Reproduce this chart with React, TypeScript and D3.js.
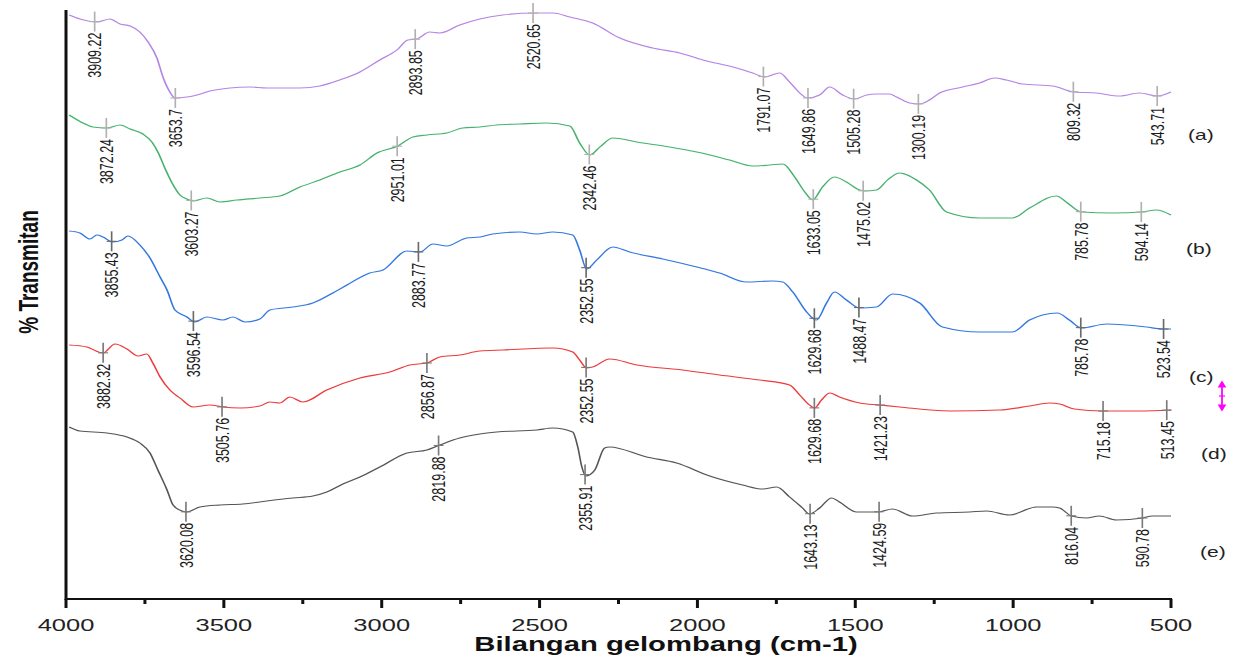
import React from 'react';
import * as d3 from 'd3';

// FTIR spectra, stacked (a)-(e). values: [wavenumber cm-1, %T with offset]
const traceA: [number, number][] = [
  [3990, 116.8], [3956, 116], [3902, 115.4], [3861, 116], [3829, 115], [3797, 114.6], [3766, 113.4],
  [3740, 111.4], [3712, 108.2], [3693, 104.4], [3671, 101.4], [3655, 100.2], [3617, 100.4], [3585, 100.8],
  [3544, 101.6], [3481, 102.2], [3418, 102.4], [3364, 102.2], [3259, 102.2], [3196, 102.6], [3133, 103.8],
  [3069, 105.4], [3006, 107.8], [2952, 109.8], [2917, 111.8], [2889, 112], [2848, 113.4], [2816, 113.2],
  [2753, 114.8], [2689, 116], [2617, 116.8], [2515, 117.2], [2458, 117.2], [2404, 116.4], [2332, 115.2],
  [2246, 112.2], [2142, 110.2], [2056, 109.2], [1983, 107.8], [1876, 106.2], [1825, 105.2], [1787, 104.4],
  [1740, 105.2], [1708, 103.4], [1676, 101.2], [1651, 100.2], [1613, 100.8], [1581, 102.4], [1540, 100.8],
  [1502, 100], [1464, 100.8], [1433, 101], [1391, 101], [1369, 100.4], [1328, 99.2], [1296, 99],
  [1265, 99.8], [1233, 101.2], [1160, 102.4], [1106, 103.2], [1059, 104.2], [1021, 103.8], [970, 103],
  [875, 102.6], [806, 101.4], [736, 101.2], [663, 100.6], [600, 101.2], [543, 100.6], [500, 101.4],
];

const traceB: [number, number][] = [
  [3990, 96.8], [3946, 95.2], [3915, 94.4], [3870, 94.2], [3829, 94.8], [3797, 94], [3756, 93],
  [3728, 91.4], [3709, 89.4], [3687, 86.2], [3664, 83.2], [3639, 80.8], [3617, 80], [3598, 79.6],
  [3554, 80.2], [3512, 79.4], [3459, 79.8], [3386, 80.2], [3323, 80.6], [3259, 82.4], [3196, 83.8],
  [3133, 85.4], [3069, 86.8], [3015, 89.2], [2949, 90.6], [2901, 92.4], [2857, 92.8], [2794, 93.2],
  [2743, 94.2], [2689, 94.4], [2636, 94.8], [2563, 95], [2477, 95.2], [2404, 94.6], [2373, 91.2],
  [2341, 88.8], [2309, 90.4], [2268, 92.2], [2192, 91.4], [2088, 90.4], [2002, 89.4], [1898, 87.8],
  [1825, 86.6], [1771, 86.8], [1730, 87], [1692, 84.4], [1660, 81.4], [1635, 79.8], [1604, 82.4],
  [1566, 84.4], [1528, 83.4], [1486, 81.8], [1471, 81.6], [1433, 81.8], [1398, 83.8], [1360, 85.2],
  [1306, 83.8], [1265, 81.8], [1211, 77.4], [1106, 76.2], [1002, 76.2], [948, 78.2], [863, 80.6],
  [828, 79.2], [784, 77.4], [685, 77.2], [594, 77.4], [546, 77.8], [500, 76.8],
];

const traceC: [number, number][] = [
  [3990, 73.6], [3956, 73.2], [3924, 72], [3902, 72.8], [3883, 72.4], [3851, 71.4], [3823, 71.8],
  [3804, 72.6], [3766, 70.8], [3734, 68.2], [3702, 64.4], [3680, 61.8], [3655, 57.8], [3617, 56.4],
  [3592, 55.4], [3554, 56.4], [3503, 55.8], [3471, 56.4], [3433, 55.4], [3386, 56], [3354, 57.8],
  [3281, 58.4], [3218, 59.2], [3155, 61.2], [3110, 62.8], [3038, 65.2], [2996, 65.8], [2920, 69.6],
  [2879, 69.4], [2838, 71], [2794, 70.6], [2731, 72.2], [2689, 72.4], [2648, 73], [2563, 73.4],
  [2509, 73], [2458, 73.4], [2395, 72.8], [2373, 69.8], [2351, 66], [2319, 67.8], [2268, 70.4],
  [2215, 69.4], [2110, 68], [2002, 66.4], [1930, 65.2], [1844, 63.4], [1762, 63.6], [1730, 63.4],
  [1698, 61.4], [1654, 57.4], [1623, 55.8], [1591, 59.2], [1566, 61.4], [1528, 59.8], [1486, 58.2],
  [1433, 58.4], [1382, 61], [1296, 59.2], [1224, 54.4], [1106, 53.4], [1002, 53.4], [948, 55.8],
  [860, 57.2], [822, 55.8], [784, 54.2], [704, 55], [578, 54.4], [527, 54], [500, 54],
];

const traceD: [number, number][] = [
  [3990, 50.8], [3934, 50.4], [3883, 49.2], [3845, 51], [3807, 50], [3772, 48.6], [3744, 49],
  [3725, 47.2], [3702, 44.4], [3671, 41.8], [3639, 40.2], [3598, 38.4], [3544, 38.8], [3503, 38.4],
  [3449, 38.2], [3386, 38.6], [3354, 39.4], [3323, 39.2], [3291, 40.4], [3250, 39.4], [3174, 41.8],
  [3069, 44.2], [2974, 45.4], [2911, 46.8], [2857, 47.2], [2816, 48.4], [2753, 48.8], [2689, 49.6],
  [2617, 49.8], [2458, 50.2], [2395, 49.4], [2373, 47.8], [2351, 46.2], [2332, 46.4], [2278, 48],
  [2192, 46.8], [2047, 45.8], [1930, 44.8], [1803, 43.8], [1708, 42.8], [1676, 40.8], [1645, 38.8],
  [1629, 38.2], [1607, 39.8], [1581, 41.2], [1550, 40.4], [1486, 39.2], [1423, 38.8], [1360, 38.4],
  [1201, 37.6], [1043, 37.8], [948, 38.6], [885, 39.2], [853, 39], [806, 38], [717, 37.6],
  [600, 37.6], [500, 37.8],
];

const traceE: [number, number][] = [
  [3990, 34.4], [3956, 33.6], [3870, 33.2], [3807, 32.4], [3766, 31.2], [3734, 29.2], [3709, 25.8],
  [3680, 21.8], [3661, 18.8], [3633, 17.6], [3617, 17.4], [3576, 18.4], [3512, 18.8], [3440, 19],
  [3364, 19.6], [3281, 20.2], [3218, 20.6], [3174, 21.4], [3123, 23], [3069, 24.4], [3006, 26.4],
  [2920, 29.2], [2857, 29.8], [2816, 30.8], [2753, 32.2], [2689, 33], [2636, 33.4], [2509, 33.8],
  [2458, 34.2], [2395, 33.4], [2379, 30.4], [2366, 26.4], [2354, 24.6], [2325, 25.8], [2294, 30.2],
  [2278, 30.4], [2161, 28.4], [2066, 27.2], [1961, 24.6], [1857, 22.8], [1793, 22], [1749, 22.4],
  [1708, 20.4], [1667, 18.2], [1645, 17], [1613, 18.2], [1575, 20.2], [1550, 19.4], [1496, 17.4],
  [1429, 17.4], [1382, 18], [1319, 16.6], [1243, 17.2], [1138, 17.4], [1084, 17.6], [1012, 16.8],
  [926, 18.4], [875, 18.4], [853, 18.2], [815, 16.6], [768, 16.2], [727, 16.6], [673, 15.8],
  [590, 16.2], [559, 16.6], [500, 16.6],
];

const peaksA = ['3909.22', '3653.7', '2893.85', '2520.65', '1791.07', '1649.86', '1505.28', '1300.19', '809.32', '543.71'];
const peaksB = ['3872.24', '3603.27', '2951.01', '2342.46', '1633.05', '1475.02', '785.78', '594.14'];
const peaksC = ['3855.43', '3596.54', '2883.77', '2352.55', '1629.68', '1488.47', '785.78', '523.54'];
const peaksD = ['3882.32', '3505.76', '2856.87', '2352.55', '1629.68', '1421.23', '715.18', '513.45'];
const peaksE = ['3620.08', '2819.88', '2355.91', '1643.13', '1424.59', '816.04', '590.78'];

const seriesNames = ['(a)', '(b)', '(c)', '(d)', '(e)'];
const seriesColors = ['#b585e6', '#45b36e', '#3378e0', '#ee3b3b', '#555555'];
const markerColors = ['#b0b0b0', '#b0b0b0', '#6a6a6a', '#7a7a7a', '#7a7a7a'];

const xMajor = [4000, 3500, 3000, 2500, 2000, 1500, 1000, 500];
const xMinor = [3750, 3250, 2750, 2250, 1750, 1250, 750];

const W = 1239;
const H = 657;
const SX = 1.5; // the original picture is stretched horizontally
const VW = W / SX;

const x = d3.scaleLinear().domain([4000, 500]).range([66 / SX, 1171 / SX]);
const y = d3.scaleLinear().domain([0, 118]).range([599, 9]);

function valueAt(data: [number, number][], w: number) {
  for (let i = 0; i < data.length - 1; i++) {
    const [w0, v0] = data[i];
    const [w1, v1] = data[i + 1];
    if (w <= w0 && w >= w1) return v0 + ((w - w0) / (w1 - w0)) * (v1 - v0);
  }
  return data[data.length - 1][1];
}

const line = d3
  .line<[number, number]>()
  .x(d => x(d[0]))
  .y(d => y(d[1]))
  .curve(d3.curveMonotoneX);

const traces = [traceA, traceB, traceC, traceD, traceE];
const peaks = [peaksA, peaksB, peaksC, peaksD, peaksE];
const namePos: [number, number][] = [[1188, 140], [1186, 254], [1189, 382], [1201, 459], [1200, 557]];

export default function App() {
  const font = 'Arial, "Liberation Sans", sans-serif';
  return (
    <svg
      width={W}
      height={H}
      viewBox={`0 0 ${VW} ${H}`}
      preserveAspectRatio="none"
      style={{ position: 'absolute', left: 0, top: 0, background: '#fff' }}
    >
      <rect x={0} y={0} width={VW} height={H} fill="#fff" />

      {traces.map((t, i) => (
        <path key={i} d={line(t) || ''} fill="none" stroke={seriesColors[i]} strokeWidth={1.1} />
      ))}

      {peaks.map((list, i) =>
        list.map((p, j) => {
          const px = x(+p);
          const py = y(valueAt(traces[i], +p));
          return (
            <g key={`${i}-${j}`}>
              <line x1={px} x2={px} y1={py - 10} y2={py + 10} stroke={markerColors[i]} strokeWidth={1.1} />
              <line x1={px - 3.3} x2={px + 3.3} y1={py} y2={py} stroke={markerColors[i]} strokeWidth={1.1} />
              <text
                transform={`translate(${px},${py + 11}) rotate(-90)`}
                textAnchor="end"
                dy="0.36em"
                fontFamily={font}
                fontSize={12.5}
                fill="#1a1a1a"
              >
                {p}
              </text>
            </g>
          );
        })
      )}

      {seriesNames.map((n, i) => (
        <text key={n} x={namePos[i][0] / SX} y={namePos[i][1]} fontFamily={font} fontSize={14} fill="#222">
          {n}
        </text>
      ))}

      {/* axes */}
      <line x1={x(4000)} x2={x(4000)} y1={10} y2={600} stroke="#111" strokeWidth={2} />
      <line x1={x(4000) - 0.7} x2={x(500) + 0.7} y1={599} y2={599} stroke="#111" strokeWidth={2} />
      {xMajor.map(v => (
        <g key={v}>
          <line x1={x(v)} x2={x(v)} y1={599} y2={608} stroke="#111" strokeWidth={2} />
          <text x={x(v)} y={631} textAnchor="middle" fontFamily={font} fontSize={17} fill="#222">
            {v}
          </text>
        </g>
      ))}
      {xMinor.map(v => (
        <line key={v} x1={x(v)} x2={x(v)} y1={599} y2={604} stroke="#111" strokeWidth={2} />
      ))}

      <text x={666 / SX} y={651} textAnchor="middle" fontFamily={font} fontSize={19.5} fontWeight="bold" fill="#111">
        Bilangan gelombang (cm-1)
      </text>
      <text
        transform={`translate(${28 / SX},272) rotate(-90)`}
        textAnchor="middle"
        dy="0.36em"
        fontFamily={font}
        fontSize={19}
        fontWeight="bold"
        fill="#111"
      >
        % Transmitan
      </text>

      {/* magenta double arrow */}
      <g stroke="#ff00ff" strokeWidth={1.2} fill="#ff00ff">
        <line x1={1222 / SX} x2={1222 / SX} y1={385} y2={407} />
        <path d={`M${1222 / SX},382 l-2,5 l4,0 z`} />
        <path d={`M${1222 / SX},410 l-2,-5 l4,0 z`} />
        <line x1={1219 / SX} x2={1225 / SX} y1={396} y2={396} />
      </g>
    </svg>
  );
}
